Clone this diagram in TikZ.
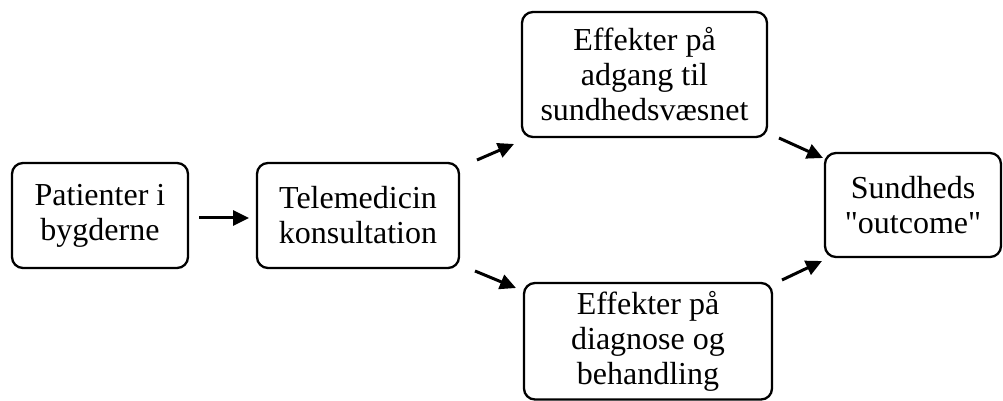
\documentclass[tikz,border=0pt]{standalone}
\usepackage{fontspec}
\setmainfont{Liberation Serif}[Ligatures=TeXOff]
\usetikzlibrary{arrows.meta}
\begin{document}
\begin{tikzpicture}[x=1pt,y=1pt,
  box/.style={draw=black, line width=2.3pt, rounded corners=11pt, align=center,
    inner sep=0pt, font=\fontsize{32}{35}\selectfont},
  arr/.style={line width=3pt, -{Triangle[length=16pt,width=15pt]}}]
\useasboundingbox (0,0) rectangle (1003,401);
\node[box, minimum width=176pt, minimum height=105pt] (pat) at (100,185.5) {Patienter i\\bygderne};
\node[box, minimum width=202pt, minimum height=105pt] (tele) at (358,185.5) {Telemedicin\\konsultation};
\node[box, minimum width=245pt, minimum height=125pt] (adg) at (644.5,326.5) {Effekter på\\adgang til\\sundhedsvæsnet};
\node[box, minimum width=248pt, minimum height=116.5pt] (diag) at (648,59.75) {Effekter på\\diagnose og\\behandling};
\node[box, minimum width=176pt, minimum height=104pt] (out) at (913,196) {Sundheds\\"outcome"};
\coordinate (a1s) at (199,183);
\coordinate (a1e) at (249,183);
\coordinate (a2s) at (477,241);
\coordinate (a2e) at (514,257);
\coordinate (a3s) at (475,130);
\coordinate (a3e) at (516,113);
\coordinate (a4s) at (779,263);
\coordinate (a4e) at (823,243);
\coordinate (a5s) at (782,121);
\coordinate (a5e) at (822,140);
\draw[arr] (a1s) -- (a1e);
\draw[arr] (a2s) -- (a2e);
\draw[arr] (a3s) -- (a3e);
\draw[arr] (a4s) -- (a4e);
\draw[arr] (a5s) -- (a5e);
\end{tikzpicture}
\end{document}
